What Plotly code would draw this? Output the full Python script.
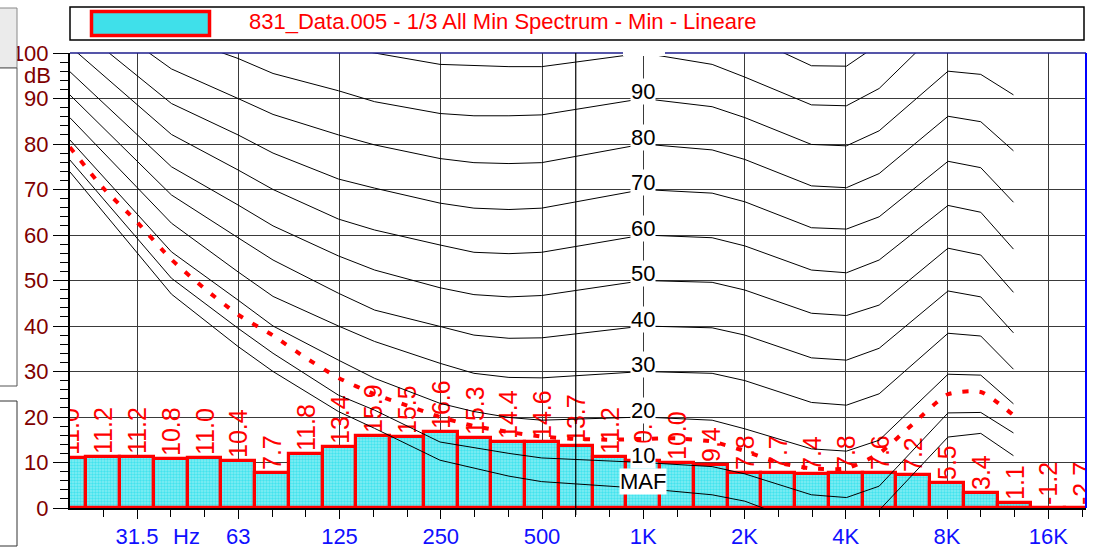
import math
import plotly.graph_objects as go

# ---------------------------------------------------------------------------
# 1/3-octave spectrum (dB), 20 Hz .. 20 kHz
# ---------------------------------------------------------------------------
BANDS = ["20", "25", "31.5", "40", "50", "63", "80", "100", "125", "160",
         "200", "250", "315", "400", "500", "630", "800", "1K", "1.25K",
         "1.6K", "2K", "2.5K", "3.15K", "4K", "5K", "6.3K", "8K", "10K",
         "12.5K", "16K", "20K"]
LEVELS = [11.0, 11.2, 11.2, 10.8, 11.0, 10.4, 7.7, 11.8, 13.4, 15.9,
          15.5, 16.6, 15.3, 14.4, 14.6, 13.7, 11.2, 10.3, 10.0,
          9.4, 7.8, 7.7, 7.4, 7.8, 7.6, 7.2, 5.5, 3.4,
          1.1, -1.2, -2.7]

# ---------------------------------------------------------------------------
# Equal-loudness contours (dB SPL) at the tabulated frequencies
# ---------------------------------------------------------------------------
CONTOUR_FREQ = [20, 40, 63, 80, 125, 160, 250, 315, 400, 500, 1000,
                1600, 2000, 3150, 4000, 5000, 8000, 10000, 12500]
MAF = [73.9, 47.0, 35.5, 30.0, 21.2, 17.5, 10.5, 8.8, 7.0, 5.8, 4.3,
       2.9, 1.5, -4.0, -4.5, -0.5, 15.6, 16.4, 11.5]
P10 = [76.5, 50.5, 39.5, 34.0, 24.8, 21.5, 14.5, 13.2, 12.0, 11.0, 10.0,
       9.1, 7.5, 2.9, 2.3, 4.8, 20.9, 21.0, 16.5]
P20 = [80.9, 56.3, 45.7, 40.0, 32.5, 28.5, 23.0, 21.2, 19.9, 19.3, 20.0,
       19.3, 17.4, 13.0, 12.5, 14.9, 29.4, 29.2, 22.9]
P30 = [85.8, 62.6, 51.9, 46.5, 40.0, 36.6, 31.8, 29.6, 28.7, 28.6, 30.0,
       29.6, 28.0, 23.2, 22.6, 25.1, 38.4, 37.8, 30.5]
P40 = [90.8, 68.8, 59.4, 54.5, 47.2, 43.5, 39.9, 38.0, 37.3, 37.4, 40.0,
       39.6, 38.0, 33.0, 32.5, 35.1, 47.7, 46.4, 38.5]
P50 = [95.9, 75.0, 66.6, 62.0, 55.4, 52.3, 48.4, 46.9, 46.4, 46.7, 50.0,
       49.6, 47.9, 42.8, 42.3, 44.6, 57.1, 55.6, 47.4]
P60 = [101.5, 82.1, 74.3, 70.0, 63.5, 61.1, 57.8, 56.2, 55.9, 56.2, 60.0,
       59.4, 57.6, 52.3, 51.7, 54.5, 66.5, 65.0, 56.9]
P70 = [107.0, 88.9, 82.0, 78.0, 72.3, 70.3, 67.0, 65.9, 65.6, 65.9, 70.0,
       69.2, 67.3, 61.6, 61.3, 64.0, 76.2, 74.8, 67.2]
P80 = [112.5, 96.5, 90.0, 86.5, 82.0, 79.8, 76.8, 75.9, 75.7, 75.9, 80.0,
       78.7, 76.6, 70.8, 70.4, 73.5, 86.1, 84.9, 78.5]
P90 = [118.0, 104.0, 98.8, 95.5, 91.7, 89.3, 86.7, 86.2, 86.2, 86.4, 90.0,
       88.2, 85.8, 79.9, 79.6, 82.9, 96.0, 95.3, 90.8]
P100 = [124.0, 111.0, 106.0, 104.0, 101.5, 100.0, 97.5, 97.2, 97.0, 97.0, 100.0,
        97.5, 94.7, 88.6, 88.4, 92.2, 107.0, 106.0, 102.0]
P110 = [130.0, 118.0, 113.0, 111.0, 108.0, 107.0, 106.0, 106.0, 106.0, 106.0, 110.0,
        107.0, 104.0, 97.2, 97.1, 102.0, 115.0, 115.0, 112.0]
CONTOURS = [("MAF", MAF), ("10", P10), ("20", P20), ("30", P30), ("40", P40),
            ("50", P50), ("60", P60), ("70", P70), ("80", P80), ("90", P90),
            ("100", P100), ("110", P110)]

# Reference curve (red dotted)
REF_FREQ = [20, 25, 31.5, 40, 50, 63, 80, 100, 125, 160, 200, 250, 315, 400,
            500, 630, 800, 1000, 1250, 1600, 2000, 2500, 3150, 4000, 5000,
            6300, 8000, 10000, 12500]
REF_LEVEL = [79.3, 70.5, 63.0, 54.6, 48.3, 42.5, 37.9, 33.0, 28.6, 25.0,
             22.5, 20.0, 18.0, 16.7, 15.7, 15.2, 15.0, 15.2, 15.3, 14.6,
             12.5, 10.0, 8.7, 8.7, 12.0, 18.5, 25.0, 25.5, 20.4]

# Axis ticks
OCT_TICKS = ["31.5", "63", "125", "250", "500", "1K", "2K", "4K", "8K", "16K"]
Y_TICKS = [0, 10, 20, 30, 40, 50, 60, 70, 80, 90, 100]

LEGEND_TEXT = "831_Data.005 - 1/3 All Min Spectrum - Min - Lineare"

# ---------------------------------------------------------------------------
W, H = 1097, 551
L, R, T, B = 70, 11, 53, 43
PW, PH = W - L - R, H - T - B
FONT = "Arial, Liberation Sans, sans-serif"


def px(xp):
    return (xp - L) / PW


def py(yp):
    return (T + PH - yp) / PH


band_x = [1.3 + 0.1 * i for i in range(len(BANDS))]
oct_x = [1.5 + 0.3 * i for i in range(len(OCT_TICKS))]
X0 = 1.5 - 67 / 337.5
X1 = X0 + PW / 337.5

fig = go.Figure()

# spectrum bars
fig.add_trace(go.Bar(
    x=band_x, y=LEVELS, width=0.1,
    marker=dict(color="#3fe0ea",
                pattern=dict(shape=".", fgcolor="#00d8e6", bgcolor="#86eef4",
                             size=3, solidity=0.5),
                line=dict(color="#ff0000", width=3.2)),
    hoverinfo="skip", showlegend=False,
))

# equal-loudness contours
cx = [math.log10(f) for f in CONTOUR_FREQ]
for name, vals in CONTOURS:
    fig.add_trace(go.Scatter(
        x=cx, y=vals, mode="lines",
        line=dict(color="black", width=1),
        hoverinfo="skip", showlegend=False,
    ))

# red dotted reference curve
fig.add_trace(go.Scatter(
    x=[math.log10(f) for f in REF_FREQ], y=REF_LEVEL, mode="lines",
    line=dict(color="#ff0000", width=4, dash="6px,11px", shape="spline",
              smoothing=0.6),
    hoverinfo="skip", showlegend=False,
))

# value labels above each band (clipped to the plot area)
fig.add_trace(go.Bar(
    x=band_x, y=[max(v, 0) for v in LEVELS], width=0.1,
    marker=dict(color="rgba(0,0,0,0)", line=dict(width=0)),
    text=[f"{v:.1f}" for v in LEVELS], textposition="outside",
    textangle=-90, constraintext="none", cliponaxis=True,
    textfont=dict(family=FONT, size=25, color="#ff0000"),
    hoverinfo="skip", showlegend=False,
))

annotations = []
# contour labels at 1 kHz
for name, vals in CONTOURS:
    v = vals[CONTOUR_FREQ.index(1000)]
    if v > 95:
        continue
    annotations.append(dict(
        x=3.0, y=v, xref="x", yref="y", text=name, showarrow=False,
        yshift=7, bgcolor="white", borderpad=0,
        font=dict(family=FONT, size=22, color="black"),
    ))

# unit labels
annotations.append(dict(x=px(53), y=py(75), xref="paper", yref="paper",
                        text="dB", showarrow=False, xanchor="right",
                        yanchor="middle",
                        font=dict(family=FONT, size=22, color="#800000")))
annotations.append(dict(x=1.648, y=py(536), xref="x", yref="paper",
                        text="Hz", showarrow=False, xanchor="center",
                        yanchor="middle",
                        font=dict(family=FONT, size=22, color="#1010ff")))
# legend text
annotations.append(dict(x=px(247), y=py(21), xref="paper", yref="paper",
                        text=LEGEND_TEXT, showarrow=False, xanchor="left",
                        yanchor="middle",
                        font=dict(family=FONT, size=22, color="#ff0000")))

shapes = [
    # legend frame and swatch
    dict(type="rect", xref="paper", yref="paper", x0=px(70), x1=px(1084),
         y0=py(7), y1=py(40), line=dict(color="black", width=1.5),
         fillcolor="white", layer="above"),
    dict(type="rect", xref="paper", yref="paper", x0=px(91.5), x1=px(209.5),
         y0=py(11.5), y1=py(35.5), line=dict(color="#ff0000", width=3.5),
         fillcolor="#3fe0ea", layer="above"),
    # side panels
    dict(type="rect", xref="paper", yref="paper", x0=px(-2), x1=px(17),
         y0=py(8), y1=py(68), line=dict(color="#888888", width=1),
         fillcolor="#ebebeb", layer="above"),
    dict(type="rect", xref="paper", yref="paper", x0=px(-2), x1=px(17),
         y0=py(68), y1=py(386), line=dict(color="#555555", width=1),
         fillcolor="white", layer="above"),
    dict(type="rect", xref="paper", yref="paper", x0=px(-2), x1=px(17),
         y0=py(401), y1=py(546), line=dict(color="#333333", width=1),
         fillcolor="white", layer="above"),
    # plot frame (top and right)
    dict(type="line", xref="paper", yref="paper", x0=0, x1=1, y0=1, y1=1,
         line=dict(color="#1c1c8c", width=1.5), layer="above"),
    dict(type="line", xref="paper", yref="paper", x0=1, x1=1, y0=0, y1=1,
         line=dict(color="#0000ff", width=2), layer="above"),
    # cursor at 630 Hz
    dict(type="line", xref="x", yref="paper", x0=band_x[15], x1=band_x[15],
         y0=py(515), y1=1, line=dict(color="black", width=1.2)),
    # gap in the top frame where the 100 label sits
    dict(type="rect", xref="paper", yref="paper", x0=px(623), x1=px(665),
         y0=py(56), y1=py(52), line=dict(width=0), fillcolor="white",
         layer="above"),
]

fig.update_layout(
    width=W, height=H,
    margin=dict(l=L, r=R, t=T, b=B, pad=0, autoexpand=False),
    paper_bgcolor="white", plot_bgcolor="white",
    bargap=0, barmode="overlay",
    showlegend=False,
    annotations=annotations, shapes=shapes,
    font=dict(family=FONT),
)

fig.update_xaxes(
    range=[X0, X1], showgrid=True, gridcolor="#3a3a3a", gridwidth=1,
    automargin=False,
    tickmode="array", tickvals=oct_x, ticktext=OCT_TICKS,
    ticks="outside", ticklen=9, tickcolor="black", tickwidth=1,
    tickfont=dict(family=FONT, size=22, color="#1010ff"),
    ticklabelstandoff=-1,
    minor=dict(tickmode="array", tickvals=band_x, ticks="outside",
               ticklen=7, tickcolor="black", tickwidth=1, showgrid=False),
    showline=True, linecolor="black", linewidth=1.5, zeroline=False,
)
fig.update_yaxes(
    range=[0, 100], showgrid=True, gridcolor="#3a3a3a", gridwidth=1,
    automargin=False,
    tickmode="array", tickvals=Y_TICKS,
    ticks="outside", ticklen=15, tickcolor="black", tickwidth=1,
    tickfont=dict(family=FONT, size=22, color="#800000"),
    minor=dict(tickmode="array", tickvals=list(range(2, 100, 2)),
               ticks="outside", ticklen=8, tickcolor="black", tickwidth=1,
               showgrid=False),
    showline=True, linecolor="black", linewidth=2, zeroline=False,
)

fig.write_html("out.html")
